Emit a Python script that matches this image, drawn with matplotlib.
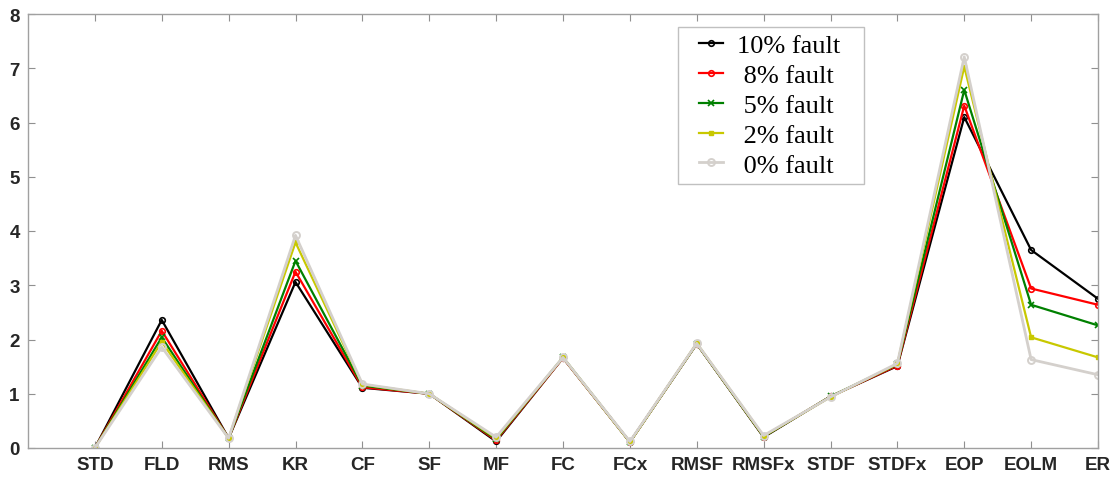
import numpy as np
import matplotlib.pyplot as plt
from matplotlib.patches import Rectangle

# feature names on the x axis
features = ['STD', 'FLD', 'RMS', 'KR', 'CF', 'SF', 'MF', 'FC', 'FCx',
            'RMSF', 'RMSFx', 'STDF', 'STDFx', 'EOP', 'EOLM', 'ER']

# values per fault level
fault10 = [0.0, 2.36, 0.18, 3.06, 1.11, 1.00, 0.12, 1.66, 0.11, 1.92, 0.20, 0.95, 1.51, 6.10, 3.65, 2.75]
fault8 = [0.0, 2.16, 0.18, 3.25, 1.12, 1.00, 0.14, 1.66, 0.11, 1.92, 0.21, 0.95, 1.52, 6.31, 2.94, 2.64]
fault5 = [0.0, 2.04, 0.18, 3.45, 1.15, 1.00, 0.16, 1.67, 0.11, 1.92, 0.21, 0.95, 1.54, 6.60, 2.64, 2.26]
fault2 = [0.0, 1.96, 0.18, 3.79, 1.17, 1.00, 0.18, 1.67, 0.11, 1.93, 0.22, 0.94, 1.55, 7.03, 2.04, 1.67]
fault0 = [0.0, 1.86, 0.18, 3.92, 1.18, 1.00, 0.20, 1.67, 0.12, 1.93, 0.23, 0.94, 1.56, 7.21, 1.63, 1.35]

x = np.arange(1, len(features) + 1)

plt.rcParams['font.family'] = ['Liberation Sans', 'DejaVu Sans']

fig = plt.figure(figsize=(11.15, 4.81), dpi=100)
ax = fig.add_axes([28 / 1115, 1 - 449 / 481, 1070 / 1115, 434 / 481])

ax.plot(x, fault10, color='black', marker='o', ms=4, mfc='none', mew=1.2, lw=1.6, label='10% fault')
ax.plot(x, fault8, color='#ff0000', marker='o', ms=4, mfc='none', mew=1.2, lw=1.6, label=' 8% fault')
ax.plot(x, fault5, color='#008000', marker='x', ms=4.5, mew=1.2, lw=1.6, label=' 5% fault')
ax.plot(x, fault2, color='#c8c800', marker='s', ms=3.5, lw=1.6, label=' 2% fault')
ax.plot(x, fault0, color='#d4d0cc', marker='o', ms=5, mfc='none', mew=1.4, lw=2.0, label=' 0% fault')

ax.set_xlim(0, 16)
ax.set_ylim(0, 8)
ax.set_xticks(x)
ax.set_xticklabels(features)
ax.set_yticks(range(0, 9))

for s in ax.spines.values():
    s.set_color('#a0a0a0')
    s.set_linewidth(1.0)
ax.tick_params(direction='in', length=5, width=0.8, color='#909090',
               top=True, right=True, labelsize=13.5, labelcolor='#262626', pad=6)
for lab in ax.get_xticklabels() + ax.get_yticklabels():
    lab.set_fontweight('bold')

# legend box drawn separately so padding can differ left/top
box = Rectangle((0.6075, 0.608), 0.1735, 0.362, transform=ax.transAxes,
                facecolor='white', edgecolor='#c0c0c0', lw=1.0, zorder=4)
ax.add_patch(box)
leg = ax.legend(loc='upper left', bbox_to_anchor=(0.627, 0.954), frameon=False,
                borderaxespad=0, borderpad=0, handlelength=0.9,
                handletextpad=0.55, labelspacing=0.24,
                prop={'family': 'Liberation Serif', 'size': 19})
leg.set_zorder(5)

fig.savefig('out.png', dpi=100)
